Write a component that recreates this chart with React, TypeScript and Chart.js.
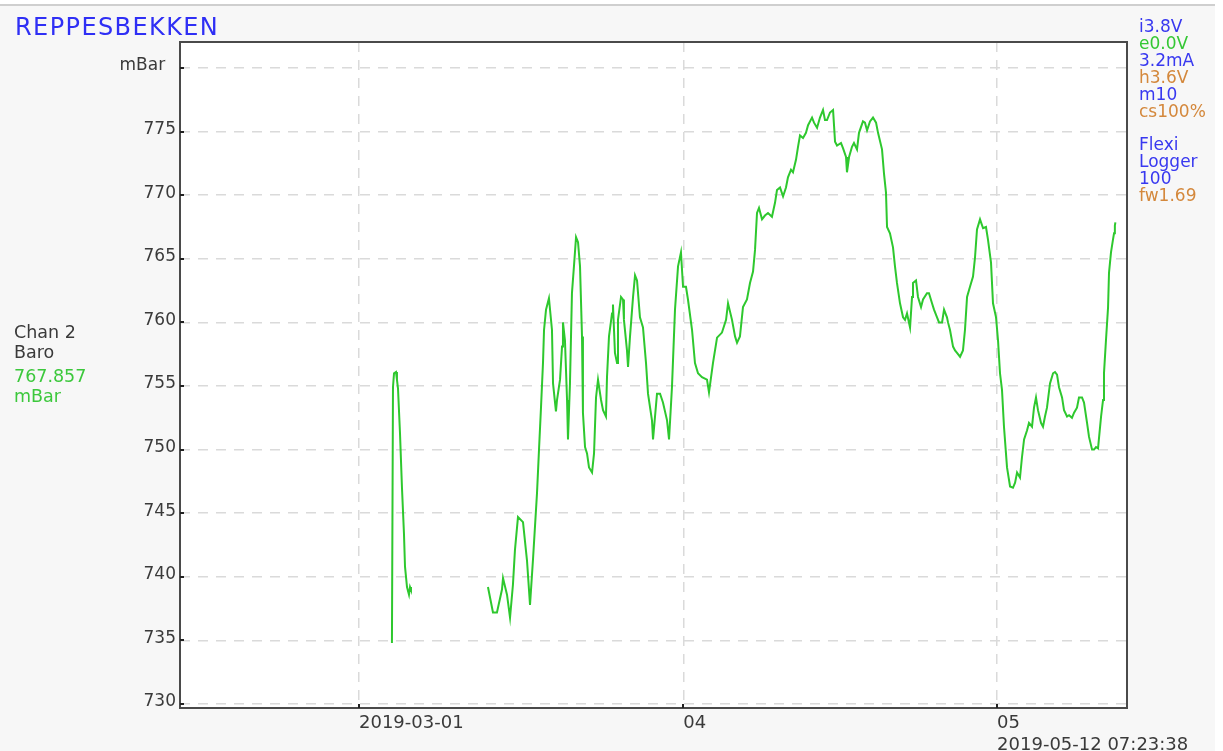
import React, { useEffect, useRef } from "react";
import { Chart, registerables } from "chart.js";

Chart.register(...registerables);

// x: days since 2019-03-01 00:00, y: mBar (null = gap in logging)
const days: number[] = [
  3.15, 3.25, 3.35, 3.54, 3.63, 3.73, 3.92, 4.11, 4.3, 4.4, 4.59, 4.78, 4.88, 4.97,
  8.6,
  12.33, 12.81, 13.19, 13.67, 13.77, 14.15, 14.44, 14.72, 14.91, 15.2, 15.68, 16.06, 16.35, 16.63,
  17.02, 17.21, 17.4, 17.59, 17.69, 17.88, 18.16, 18.45, 18.55, 18.83, 18.93, 19.22, 19.41, 19.5,
  19.69, 19.89, 19.98, 20.17, 20.36, 20.55, 20.75, 20.94, 21.13, 21.32, 21.41, 21.61, 21.8, 21.99,
  22.28, 22.47, 22.66, 22.85, 23.14, 23.33, 23.61, 23.71, 23.9, 24.19, 24.28, 24.47, 24.67, 24.76,
  25.05, 25.24, 25.33, 25.62, 25.72, 25.91, 26.2, 26.39, 26.58, 26.86, 27.15, 27.44, 27.63, 28.01,
  28.11, 28.49, 28.78, 29.06, 29.45, 29.64, 29.92, 30.21, 30.5, 30.78, 30.98, 31.26, 31.45, 31.84,
  32.12, 32.41, 32.79, 33.27, 33.46, 33.84, 34.23, 34.7, 35.09, 35.28, 35.66, 35.95, 36.14, 36.42,
  36.71, 37.09, 37.38, 37.67, 37.86, 38.05, 38.24, 38.53, 38.81, 39.1, 39.48, 39.77, 39.96, 40.25,
  40.54, 40.82, 41.01, 41.3, 41.49, 41.78, 41.97, 42.16, 42.45, 42.73, 42.93, 43.31, 43.5, 43.79,
  44.07, 44.36, 44.55, 44.74, 45.03, 45.32, 45.51, 45.7, 46.08, 46.27, 46.56, 46.65, 46.85, 47.13,
  47.32, 47.61, 47.8, 48.18, 48.37, 48.57, 48.85, 49.14, 49.43, 49.62, 50.0, 50.19, 50.38, 50.48,
  50.76, 51.05, 51.24, 51.43, 51.72, 52.01, 52.2, 52.39, 52.68, 52.87, 52.96, 53.25, 53.44, 53.73,
  53.92, 54.3, 54.49, 54.78, 54.97, 55.26, 55.45, 55.74, 55.93, 56.21, 56.31, 56.5, 56.79, 56.98,
  57.17, 57.46, 57.74, 57.93, 58.13, 58.41, 58.7, 58.89, 59.08, 59.37, 59.66, 59.94, 60.13, 60.42,
  60.61, 60.9, 61.09, 61.28, 61.47, 61.66, 61.85, 61.95, 62.24, 62.52, 62.72, 62.91, 63.19, 63.38,
  63.58, 63.86, 64.05, 64.34, 64.53, 64.72, 64.91, 65.2, 65.39, 65.58, 65.77, 66.06, 66.35, 66.54,
  66.73, 66.92, 67.21, 67.4, 67.69, 67.88, 68.16, 68.36, 68.64, 68.83, 69.12, 69.31, 69.6, 69.79,
  70.08, 70.27, 70.46, 70.65, 70.94, 71.13, 71.22, 71.41, 71.61, 71.7, 71.89, 72.08, 72.18, 72.26,
  72.31,
];

const mbar: (number | null)[] = [
  734.8, 754.9, 756.0, 756.1, 755.5, 754.8, 751.3, 747.0, 743.4, 740.8, 739.2, 738.6, 739.2, 739.0,
  null,
  739.2, 737.2, 737.2, 739.0, 739.9, 738.6, 736.8, 739.4, 742.1, 744.7, 744.3, 741.3, 737.8, 741.3,
  746.6, 750.0, 753.3, 756.8, 759.4, 761.0, 761.9, 759.4, 755.2, 753.0, 753.9, 755.5, 758.1, 760.0,
  758.6, 753.9, 750.8, 755.2, 762.3, 764.4, 766.7, 766.3, 764.4, 758.9, 752.9, 750.2, 749.7, 748.6,
  748.2, 749.7, 754.1, 755.5, 753.9, 753.1, 752.6, 755.7, 758.9, 760.7, 761.4, 757.6, 756.8, 760.2,
  762.0, 761.8, 760.2, 757.8, 756.5, 758.9, 762.0, 763.7, 763.3, 760.4, 759.6, 756.8, 754.4, 752.3,
  750.8, 754.4, 754.4, 753.7, 752.3, 750.8, 754.9, 761.0, 764.4, 765.5, 762.8, 762.8, 761.8, 759.4,
  756.8, 756.0, 755.7, 755.5, 754.5, 756.8, 758.8, 759.2, 760.2, 761.5, 760.2, 758.9, 758.4, 758.9,
  761.2, 761.8, 763.1, 764.0, 765.7, 768.6, 769.0, 768.1, 768.4, 768.6, 768.3, 769.4, 770.4, 770.6,
  769.9, 770.6, 771.4, 772.0, 771.8, 772.8, 773.8, 774.7, 774.5, 774.9, 775.5, 776.1, 775.7, 775.3,
  776.1, 776.7, 775.9, 775.9, 776.5, 776.7, 774.2, 773.9, 774.1, 773.7, 773.0, 771.8, 773.0, 773.8,
  774.1, 773.6, 774.9, 775.8, 775.7, 775.1, 775.8, 776.1, 775.7, 774.9, 773.6, 771.7, 770.2, 767.5,
  767.0, 765.9, 764.4, 763.1, 761.5, 760.4, 760.2, 760.7, 759.6, 762.0, 763.1, 763.3, 762.0, 761.2,
  761.8, 762.3, 762.3, 761.5, 761.0, 760.4, 760.0, 760.0, 761.0, 760.4, 760.0, 759.4, 758.1, 757.8,
  757.6, 757.3, 757.8, 759.4, 762.0, 762.8, 763.6, 765.1, 767.3, 768.1, 767.4, 767.5, 766.5, 764.7,
  761.5, 760.4, 758.6, 756.0, 754.7, 751.8, 749.7, 748.6, 747.1, 747.0, 747.4, 748.2, 747.8, 749.4,
  750.8, 751.5, 752.1, 751.8, 753.3, 754.1, 753.1, 752.1, 751.8, 752.6, 753.3, 755.2, 756.0, 756.1,
  755.9, 754.9, 754.1, 753.1, 752.6, 752.7, 752.5, 752.9, 753.3, 754.1, 754.1, 753.7, 752.1, 751.0,
  750.0, 750.0, 750.2, 750.1, 752.6, 753.9, 756.0, 758.6, 761.2, 763.9, 765.5, 766.5, 767.0, 767.6,
  767.857,
];

const xTickDays: number[] = [0, 31, 61];
const xTickLabels: (string | string[])[] = ["2019-03-01", "04", ["05", "2019-05-12 07:23:38"]];
const yTicks: number[] = [730, 735, 740, 745, 750, 755, 760, 765, 770, 775, 780];
const xMin = -17.11;
const xMax = 73.42;
const yMin = 729.69;
const yMax = 782.04;

const infoLines: { text: string; color: string }[] = [
  { text: "i3.8V", color: "#3838f0" },
  { text: "e0.0V", color: "#34c734" },
  { text: "3.2mA", color: "#3838f0" },
  { text: "h3.6V", color: "#d4883c" },
  { text: "m10", color: "#3838f0" },
  { text: "cs100%", color: "#d4883c" },
  { text: "\u00a0", color: "#3838f0" },
  { text: "Flexi", color: "#3838f0" },
  { text: "Logger", color: "#3838f0" },
  { text: "100", color: "#3838f0" },
  { text: "fw1.69", color: "#d4883c" },
];

const FONT = '"DejaVu Sans", Verdana, sans-serif';

const framePlugin = {
  id: "frame",
  beforeDraw(chart: any) {
    const { ctx, chartArea: a } = chart;
    ctx.save();
    ctx.fillStyle = "#ffffff";
    ctx.fillRect(a.left, a.top, a.right - a.left, a.bottom - a.top);
    ctx.restore();
  },
  afterDraw(chart: any) {
    const { ctx, chartArea: a, scales } = chart;
    ctx.save();
    ctx.strokeStyle = "#4a4a4a";
    ctx.lineWidth = 2;
    ctx.strokeRect(a.left, a.top, a.right - a.left, a.bottom - a.top);
    ctx.strokeStyle = "#222";
    scales.y.ticks.forEach((t: any) => {
      const y = Math.round(scales.y.getPixelForValue(t.value));
      ctx.beginPath();
      ctx.moveTo(a.left, y);
      ctx.lineTo(a.left + 4, y);
      ctx.stroke();
    });
    scales.x.ticks.forEach((t: any) => {
      const x = Math.round(scales.x.getPixelForValue(t.value));
      ctx.beginPath();
      ctx.moveTo(x, a.bottom);
      ctx.lineTo(x, a.bottom - 4);
      ctx.stroke();
    });
    ctx.restore();
  },
};

export default function App() {
  const canvasRef = useRef<HTMLCanvasElement>(null);

  useEffect(() => {
    if (!canvasRef.current) return;
    const points = days.map((d, i) => ({ x: d, y: mbar[i] }));
    const chart = new Chart(canvasRef.current, {
      type: "line",
      data: {
        datasets: [
          {
            data: points as any,
            borderColor: "#2ec82e",
            borderWidth: 2,
            pointRadius: 0,
            tension: 0,
            spanGaps: false,
            fill: false,
          },
        ],
      },
      options: {
        animation: false,
        responsive: false,
        devicePixelRatio: 1,
        layout: { padding: { left: 0, top: 42, right: 96, bottom: 0 } },
        plugins: { legend: { display: false }, tooltip: { enabled: false }, title: { display: false } },
        scales: {
          x: {
            type: "linear",
            min: xMin,
            max: xMax,
            afterBuildTicks: (scale: any) => {
              scale.ticks = xTickDays.map((v) => ({ value: v }));
            },
            afterFit: (scale: any) => {
              scale.height = 43;
            },
            grid: { color: "#dadada", lineWidth: 1.5, drawTicks: false },
            border: { display: false, dash: [10, 8] },
            ticks: {
              autoSkip: false,
              maxRotation: 0,
              minRotation: 0,
              align: "start",
              padding: 5,
              color: "#3a3a3a",
              font: { family: FONT, size: 18, lineHeight: 1.2 },
              callback: (value: any) => {
                const idx = xTickDays.indexOf(Number(value));
                return idx >= 0 ? xTickLabels[idx] : "";
              },
            },
          },
          y: {
            type: "linear",
            min: yMin,
            max: yMax,
            afterBuildTicks: (scale: any) => {
              scale.ticks = yTicks.map((v) => ({ value: v }));
            },
            afterFit: (scale: any) => {
              scale.width = 180;
            },
            grid: { color: "#dadada", lineWidth: 1.5, drawTicks: false },
            border: { display: false, dash: [10, 8] },
            ticks: {
              padding: 4,
              labelOffset: -2,
              color: "#3a3a3a",
              font: { family: FONT, size: 17 },
              callback: (value: any) => (Number(value) === 780 ? "mBar  " : String(value)),
            },
          },
        },
      },
      plugins: [framePlugin],
    });
    return () => chart.destroy();
  }, []);

  return (
    <div style={{ position: "absolute", left: 0, top: 0, width: 1223, height: 751, background: "#ffffff", overflow: "hidden" }}>
      <div
        style={{
          position: "absolute",
          left: 0,
          top: 4,
          width: 1215,
          height: 747,
          background: "#f7f7f7",
          borderTop: "2px solid #cfcfcf",
          boxSizing: "border-box",
        }}
      />
      <canvas ref={canvasRef} width={1223} height={751} style={{ position: "absolute", left: 0, top: 0 }} />
      <div
        style={{
          position: "absolute",
          left: 15,
          top: 15,
          fontFamily: FONT,
          fontSize: 24,
          lineHeight: "24px",
          letterSpacing: "1.4px",
          color: "#2f2ff5",
          whiteSpace: "nowrap",
        }}
      >
        REPPESBEKKEN
      </div>
      <div style={{ position: "absolute", left: 1139, top: 18, fontFamily: FONT, fontSize: 17, lineHeight: "16.9px", whiteSpace: "nowrap" }}>
        {infoLines.map((l, i) => (
          <div key={i} style={{ color: l.color }}>
            {l.text}
          </div>
        ))}
      </div>
      <div style={{ position: "absolute", left: 14, top: 322, fontFamily: FONT, fontSize: 17.5, lineHeight: "20px", color: "#3a3a3a", whiteSpace: "nowrap" }}>
        <div>Chan 2</div>
        <div>Baro</div>
      </div>
      <div style={{ position: "absolute", left: 14, top: 365.5, fontFamily: FONT, fontSize: 17.5, lineHeight: "20px", color: "#3cc83c", whiteSpace: "nowrap" }}>
        <div>767.857</div>
        <div>mBar</div>
      </div>
    </div>
  );
}
